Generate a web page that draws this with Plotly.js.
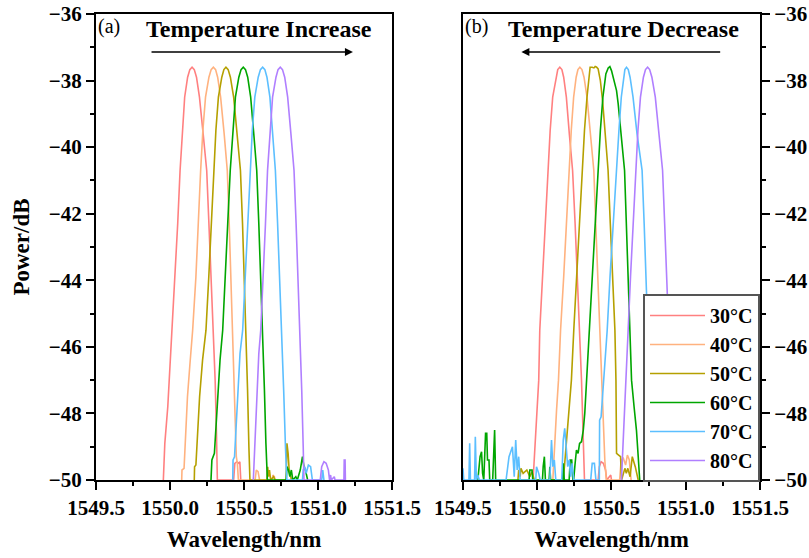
<!DOCTYPE html>
<html>
<head>
<meta charset="utf-8">
<script src="https://cdn.plot.ly/plotly-3.0.1.min.js"></script>
<style>html,body{margin:0;padding:0;background:#fff;}#chart{width:809px;height:558px;}</style>
</head>
<body>
<div id="chart"></div>
<script>
const temps = ['30°C','40°C','50°C','60°C','70°C','80°C'];
const colors = ['#FF8080','#FFB27F','#B5A000','#00A600','#5CBFFF','#B07FFF'];
const xTicks = [1549.5, 1550.0, 1550.5, 1551.0, 1551.5];
const yTicks = [-50, -48, -46, -44, -42, -40, -38, -36];

// (a) Temperature increase
const a30x = [1549.955,1549.965,1549.985,1550.000,1550.014,1550.035,1550.052,1550.068,1550.083,1550.099,1550.119,1550.134,1550.149,1550.164,1550.179,1550.199,1550.224,1550.248,1550.262,1550.278,1550.293,1550.305,1550.314,1550.320,1550.430,1550.438,1550.452,1550.465,1550.472,1550.478];
const a30y = [-50,-48.9,-47.8,-46.6,-45.5,-43.9,-42.3,-40.7,-39.5,-38.5,-37.9,-37.67,-37.6,-37.67,-37.9,-38.5,-39.6,-40.7,-42.2,-43.8,-45.5,-47.0,-48.6,-50,-50,-49.5,-49.45,-49.5,-49.45,-50];
const a40x = [1550.079,1550.081,1550.095,1550.105,1550.118,1550.135,1550.153,1550.175,1550.190,1550.207,1550.222,1550.240,1550.263,1550.278,1550.293,1550.308,1550.322,1550.342,1550.366,1550.387,1550.400,1550.412,1550.424,1550.436,1550.448,1550.455,1550.462,1550.575,1550.583,1550.595,1550.605,1550.690,1550.695,1550.705,1550.710];
const a40y = [-50,-49.7,-49.65,-48.8,-47.5,-46.5,-45.5,-43.9,-42.3,-40.7,-39.5,-38.5,-37.9,-37.67,-37.6,-37.67,-37.9,-38.5,-39.6,-40.7,-42.3,-43.9,-45.5,-47.4,-49.3,-49.5,-50,-50,-49.7,-49.75,-50,-50,-49.85,-49.9,-50];
const a50x = [1550.164,1550.166,1550.175,1550.185,1550.200,1550.220,1550.243,1550.262,1550.278,1550.293,1550.310,1550.327,1550.350,1550.364,1550.378,1550.393,1550.408,1550.430,1550.455,1550.476,1550.490,1550.502,1550.514,1550.524,1550.533,1550.540,1550.655,1550.660,1550.665,1550.672,1550.680,1550.700,1550.710,1550.785,1550.790,1550.798,1550.805,1550.812,1550.820];
const a50y = [-50,-49.6,-49.55,-48.7,-47.5,-46.4,-45.5,-43.9,-42.3,-40.7,-39.5,-38.5,-37.9,-37.67,-37.6,-37.67,-37.9,-38.5,-39.6,-40.7,-42.3,-43.9,-45.5,-47.3,-49.0,-50,-50,-49.6,-49.9,-49.7,-50,-49.9,-50,-50,-48.9,-49.2,-49.7,-49.8,-50];
const a60x = [1550.277,1550.283,1550.300,1550.310,1550.322,1550.338,1550.356,1550.375,1550.390,1550.407,1550.424,1550.442,1550.465,1550.480,1550.495,1550.510,1550.525,1550.545,1550.566,1550.586,1550.600,1550.613,1550.626,1550.638,1550.648,1550.652,1550.658,1550.785,1550.790,1550.800,1550.810,1550.820,1550.830,1550.850,1550.860,1550.880,1550.895,1550.905,1550.915,1550.930];
const a60y = [-50,-49.4,-49.2,-48.5,-47.5,-46.4,-45.5,-43.9,-42.3,-40.7,-39.5,-38.5,-37.9,-37.67,-37.6,-37.67,-37.9,-38.5,-39.6,-40.7,-42.3,-43.9,-45.5,-47.3,-48.9,-49.5,-50,-50,-49.6,-49.7,-49.9,-49.7,-50,-49.9,-50,-49.7,-49.3,-49.6,-49.7,-50];
const a70x = [1550.424,1550.426,1550.436,1550.445,1550.458,1550.473,1550.491,1550.508,1550.525,1550.541,1550.556,1550.573,1550.596,1550.611,1550.626,1550.641,1550.655,1550.675,1550.694,1550.712,1550.727,1550.741,1550.755,1550.768,1550.780,1550.789,1550.895,1550.900,1550.910,1550.920,1550.935,1550.950,1550.962,1551.025,1551.032,1551.040];
const a70y = [-50,-49.4,-49.3,-48.5,-47.3,-46.2,-45.5,-43.9,-42.3,-40.7,-39.5,-38.5,-37.9,-37.67,-37.6,-37.67,-37.9,-38.5,-39.6,-40.7,-42.3,-43.9,-45.5,-47.3,-49.0,-50,-50,-49.7,-49.6,-49.8,-49.55,-49.6,-50,-50,-49.7,-50];
const a80x = [1550.563,1550.570,1550.578,1550.590,1550.600,1550.613,1550.630,1550.645,1550.659,1550.675,1550.693,1550.716,1550.730,1550.745,1550.760,1550.775,1550.795,1550.817,1550.838,1550.852,1550.865,1550.878,1550.890,1550.900,1550.905,1551.015,1551.025,1551.040,1551.055,1551.070,1551.078,1551.085,1551.090,1551.110,1551.115,1551.175,1551.177,1551.183,1551.185];
const a80y = [-50,-49.2,-48.2,-47.0,-46.2,-45.5,-43.9,-42.3,-40.7,-39.5,-38.5,-37.9,-37.67,-37.6,-37.67,-37.9,-38.5,-39.6,-40.7,-42.3,-43.9,-45.5,-47.3,-49.0,-50,-50,-49.6,-49.45,-49.5,-49.7,-50,-49.85,-50,-49.9,-50,-50,-49.4,-49.4,-50];

// (b) Temperature decrease
const b30x = [1549.972,1549.985,1550.000,1550.010,1550.017,1550.035,1550.055,1550.071,1550.087,1550.104,1550.125,1550.138,1550.152,1550.166,1550.178,1550.196,1550.216,1550.238,1550.255,1550.270,1550.287,1550.298,1550.310,1550.318,1550.410,1550.418,1550.430,1550.445,1550.460,1550.468,1550.495,1550.500];
const b30y = [-50,-49.0,-47.8,-47.0,-45.5,-43.9,-42.3,-40.7,-39.5,-38.5,-37.9,-37.67,-37.6,-37.67,-37.9,-38.5,-39.6,-40.7,-42.3,-43.9,-45.5,-47.0,-48.8,-50,-50,-49.6,-49.45,-49.5,-49.7,-50,-49.85,-50];
const b40x = [1550.105,1550.115,1550.130,1550.143,1550.157,1550.178,1550.196,1550.213,1550.229,1550.245,1550.262,1550.274,1550.287,1550.301,1550.315,1550.335,1550.360,1550.381,1550.394,1550.408,1550.421,1550.433,1550.445,1550.455,1550.465,1550.555,1550.565,1550.580,1550.595,1550.607,1550.620,1550.632];
const b40y = [-50,-49.0,-47.9,-47.0,-45.5,-43.9,-42.3,-40.7,-39.5,-38.5,-37.9,-37.67,-37.6,-37.67,-37.9,-38.5,-39.6,-40.7,-42.3,-43.9,-45.5,-47.0,-48.5,-49.4,-50,-50,-49.4,-49.35,-49.55,-49.25,-49.4,-50];
const b50x = [1549.870,1549.875,1549.885,1549.890,1549.905,1549.930,1549.950,1549.965,1549.980,1550.175,1550.185,1550.195,1550.210,1550.230,1550.246,1550.266,1550.285,1550.302,1550.318,1550.335,1550.347,1550.356,1550.370,1550.382,1550.390,1550.400,1550.410,1550.425,1550.440,1550.460,1550.477,1550.492,1550.508,1550.523,1550.530,1550.534,1550.548,1550.561,1550.568,1550.590,1550.600,1550.610,1550.625,1550.640,1550.660,1550.680];
const b50y = [-50,-49.7,-49.9,-49.65,-49.8,-49.7,-49.9,-49.75,-50,-50,-49.5,-48.9,-48.0,-47.0,-45.5,-43.9,-42.3,-40.7,-39.5,-38.5,-37.95,-37.6,-37.6,-37.62,-37.58,-37.6,-37.65,-38.0,-38.6,-39.6,-40.7,-42.3,-43.9,-45.5,-47.0,-49.2,-49.25,-49.3,-50,-49.65,-49.8,-49.65,-49.9,-49.3,-49.6,-50];
const b60x = [1549.600,1549.615,1549.625,1549.632,1549.640,1549.652,1549.660,1549.665,1549.675,1549.680,1549.700,1549.708,1549.713,1549.720,1549.945,1549.950,1549.965,1549.970,1550.035,1550.040,1550.048,1550.055,1550.080,1550.085,1550.090,1550.170,1550.176,1550.182,1550.215,1550.222,1550.232,1550.240,1550.245,1550.255,1550.264,1550.275,1550.285,1550.298,1550.310,1550.320,1550.332,1550.349,1550.370,1550.390,1550.408,1550.425,1550.442,1550.455,1550.462,1550.478,1550.489,1550.500,1550.510,1550.522,1550.534,1550.545,1550.560,1550.575,1550.588,1550.600,1550.612,1550.624,1550.635,1550.652,1550.668,1550.680,1550.690];
const b60y = [-50,-49.3,-49.15,-49.8,-50,-48.6,-48.6,-49.4,-49.4,-50,-50,-48.5,-48.5,-50,-50,-49.7,-49.7,-50,-50,-49.6,-49.3,-50,-50,-49.6,-50,-50,-49.5,-50,-50,-49.4,-49.4,-50,-50,-49.5,-49.1,-49.2,-48.9,-48.85,-48.5,-48.0,-47.0,-45.5,-43.9,-42.3,-40.7,-39.5,-38.5,-38.0,-37.8,-37.62,-37.58,-37.7,-37.9,-38.1,-38.3,-38.7,-39.4,-40.2,-40.7,-42.3,-43.9,-45.5,-47.0,-47.8,-48.5,-49.3,-50];
const b70x = [1549.500,1549.505,1549.540,1549.545,1549.550,1549.578,1549.583,1549.590,1549.600,1549.610,1549.790,1549.810,1549.833,1549.845,1549.855,1549.865,1549.875,1549.885,1549.990,1549.995,1550.010,1550.020,1550.085,1550.096,1550.105,1550.115,1550.125,1550.165,1550.175,1550.185,1550.195,1550.205,1550.215,1550.225,1550.235,1550.245,1550.360,1550.370,1550.385,1550.395,1550.418,1550.420,1550.430,1550.448,1550.471,1550.490,1550.510,1550.534,1550.550,1550.566,1550.580,1550.590,1550.601,1550.613,1550.625,1550.645,1550.672,1550.706,1550.720,1550.733,1550.746,1550.758,1550.768,1550.775];
const b70y = [-49.65,-50,-50,-48.9,-50,-50,-48.7,-50,-49.85,-50,-50,-49.3,-49.0,-49.9,-48.8,-49.7,-49.3,-50,-50,-49.6,-49.8,-50,-50,-48.8,-49.6,-49.4,-50,-50,-48.8,-48.45,-49.0,-49.6,-49.4,-49.9,-49.5,-50,-50,-49.5,-49.5,-50,-50,-48.2,-48.1,-47.0,-45.5,-43.9,-42.3,-40.7,-39.5,-38.5,-37.9,-37.67,-37.6,-37.67,-37.9,-38.5,-39.6,-40.7,-42.3,-43.9,-45.5,-47.3,-49.0,-50];
const b80x = [1550.567,1550.580,1550.598,1550.612,1550.628,1550.645,1550.662,1550.678,1550.695,1550.715,1550.729,1550.743,1550.757,1550.772,1550.795,1550.820,1550.844,1550.858,1550.872,1550.885,1550.895,1550.905,1550.910];
const b80y = [-50,-48.8,-47.0,-45.5,-43.9,-42.3,-40.7,-39.5,-38.5,-37.9,-37.67,-37.6,-37.67,-37.9,-38.5,-39.6,-40.7,-42.3,-43.9,-45.5,-47.3,-49.0,-50];

const aX = [a30x,a40x,a50x,a60x,a70x,a80x], aY = [a30y,a40y,a50y,a60y,a70y,a80y];
const bX = [b30x,b40x,b50x,b60x,b70x,b80x], bY = [b30y,b40y,b50y,b60y,b70y,b80y];

const FONT = 'Liberation Serif, Times New Roman, serif';
const traces = [];
for (let i = 0; i < 6; i++) {
  traces.push({x: aX[i], y: aY[i], xaxis: 'x', yaxis: 'y', type: 'scatter', mode: 'lines',
    line: {color: colors[i], width: 1.6}, name: '<b>' + temps[i] + '</b>', legendgroup: temps[i], showlegend: false});
}
for (let i = 0; i < 6; i++) {
  traces.push({x: bX[i], y: bY[i], xaxis: 'x2', yaxis: 'y2', type: 'scatter', mode: 'lines',
    line: {color: colors[i], width: 1.6}, name: '<b>' + temps[i] + '</b>', legendgroup: temps[i], showlegend: true});
}

const tickFont = {family: FONT, size: 21, color: 'black'};
const titleFont = {family: FONT, size: 23, color: 'black'};
function xa(domain, anchor) {
  return {domain: domain, anchor: anchor, range: [1549.5, 1551.5], tickmode: 'array', tickvals: xTicks,
    ticktext: xTicks.map(v => '<b>' + v.toFixed(1) + '</b>'),
    showline: true, linecolor: 'black', linewidth: 2, mirror: true, ticks: 'outside', ticklen: 8, tickwidth: 2,
    tickcolor: 'black', showgrid: false, zeroline: false, tickfont: tickFont,
    minor: {dtick: 0.25, tick0: 1549.5, ticks: 'outside', ticklen: 4, tickwidth: 2, tickcolor: 'black', showgrid: false},
    title: {text: '<b>Wavelength/nm</b>', font: titleFont, standoff: 12}};
}
function ya(anchor, side, title) {
  const o = {anchor: anchor, side: side, range: [-50, -36], tickmode: 'array', tickvals: yTicks,
    ticktext: yTicks.map(v => '<b>\u2212' + Math.abs(v) + '</b>'),
    showline: true, linecolor: 'black', linewidth: 2, mirror: true, ticks: 'outside', ticklen: 8, tickwidth: 2,
    tickcolor: 'black', showgrid: false, zeroline: false, tickfont: tickFont,
    minor: {dtick: 1, tick0: -50, ticks: 'outside', ticklen: 4, tickwidth: 2, tickcolor: 'black', showgrid: false}};
  if (title) o.title = {text: '<b>' + title + '</b>', font: titleFont, standoff: 13};
  return o;
}

const layout = {
  width: 809, height: 558,
  margin: {l: 96, r: 49, t: 14, b: 78},
  paper_bgcolor: 'white', plot_bgcolor: 'white',
  xaxis: xa([0, 0.4458], 'y'),
  xaxis2: xa([0.5527, 1], 'y2'),
  yaxis: ya('x', 'left', 'Power/dB'),
  yaxis2: ya('x2', 'right', null),
  showlegend: true,
  legend: {x: 0.8238, y: 0.3991, xanchor: 'left', yanchor: 'top', bgcolor: 'white', bordercolor: '#555',
    borderwidth: 2, font: {family: FONT, size: 20, color: 'black'}, itemwidth: 55,
    tracegroupgap: 0},
  annotations: [
    {xref: 'x', yref: 'y', x: 1549.588, y: -36.39, text: '(a)', showarrow: false, font: {family: FONT, size: 20, color: 'black'}},
    {xref: 'x2', yref: 'y2', x: 1549.59, y: -36.39, text: '(b)', showarrow: false, font: {family: FONT, size: 20, color: 'black'}},
    {xref: 'x', yref: 'y', x: 1550.60, y: -36.45, text: '<b>Temperature Increase</b>', showarrow: false, font: {family: FONT, size: 24, color: 'black'}},
    {xref: 'x2', yref: 'y2', x: 1550.583, y: -36.45, text: '<b>Temperature Decrease</b>', showarrow: false, font: {family: FONT, size: 24, color: 'black'}},
    {xref: 'x', yref: 'y', axref: 'x', ayref: 'y', x: 1551.236, y: -37.14, ax: 1549.865, ay: -37.14, text: '', showarrow: true, arrowhead: 2, arrowsize: 1, arrowwidth: 1.6, arrowcolor: 'black'},
    {xref: 'x2', yref: 'y2', axref: 'x2', ayref: 'y2', x: 1549.893, y: -37.14, ax: 1551.242, ay: -37.14, text: '', showarrow: true, arrowhead: 2, arrowsize: 1, arrowwidth: 1.6, arrowcolor: 'black'}
  ]
};

Plotly.newPlot('chart', traces, layout, {displayModeBar: false, staticPlot: true});
</script>
</body>
</html>
